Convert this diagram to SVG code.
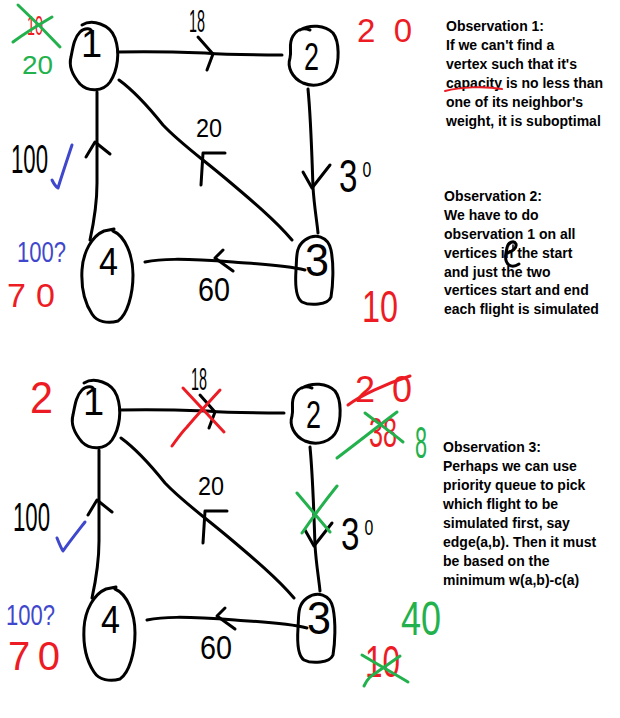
<svg xmlns="http://www.w3.org/2000/svg" width="620" height="718" viewBox="0 0 620 718">
<style>
.s{fill:none;stroke:#000;stroke-width:3;stroke-linecap:round;stroke-linejoin:round}
.r{stroke:#ed1c24}.g{stroke:#22b14c}.b{stroke:#3f48cc}
.h{font-family:"Liberation Sans",Arial,sans-serif;font-weight:normal}
.k{fill:#000}.tr{fill:#ed1c24}.tg{fill:#22b14c}.tb{fill:#3f48cc}
.obs{font-family:"Liberation Sans",Arial,sans-serif;font-weight:bold;font-size:14px;fill:#000}
</style>
<rect width="620" height="718" fill="#fff"/>

<!-- TOP GRAPH -->
<g id="top-graph">
  <g id="top-connectors">
    <path class="s" d="M118 52 C150 51 180 52 205 53 C230 55 260 55 282 55"/>
    <path class="s" d="M198 37 L213 54 L207 70"/>
    <path class="s" d="M308 89 C311 120 312 160 313 187 C314 205 317 222 318 233"/>
    <path class="s" d="M303 172 L312 188 L330 165"/>
    <path class="s" d="M119 80 C130 88 143 100 163 125 C180 143 200 157 225 178 C250 199 275 220 292 240"/>
    <path class="s" d="M225 153 L203 153 L201 185"/>
    <path class="s" d="M97 92 L97 183 C97 200 95 217 90 240"/>
    <path class="s" d="M86 157 L95 142 L110 154"/>
    <path class="s" d="M145 262 C160 259 180 258 233 262 C260 264 285 265 305 270"/>
    <path class="s" d="M223 250 L215 258 L233 271"/>
  </g>
  <g id="top-node-1">
    <path class="s" d="M82 25 C92 19 110 24 115 38 C120 52 118 70 110 82 C103 92 88 92 80 84 C74 77 68 68 71 57 C73 47 74 38 80 32 C85 27 92 28 92 33"/>
    <text class="h k" x="81" y="57" font-size="38">1</text>
  </g>
  <g id="top-node-2">
    <path class="s" d="M300 30 C310 24 325 25 333 33 C340 42 339 62 335 72 C330 84 315 88 303 83 C292 78 287 67 290 58 C292 50 288 44 293 36 C296 31 302 27 310 30"/>
    <text class="h k" x="304" y="70" font-size="38" textLength="15" lengthAdjust="spacingAndGlyphs">2</text>
  </g>
  <g id="top-node-3">
    <path class="s" d="M305 240 C315 233 328 236 331 250 C334 265 333 285 331 297 C328 305 310 306 302 302 C296 298 295 285 296 270 C297 258 295 247 305 240"/>
    <text class="h k" x="305" y="276" font-size="46" textLength="24" lengthAdjust="spacingAndGlyphs">3</text>
  </g>
  <g id="top-node-4">
    <path class="s" d="M113 231 C125 236 133 255 133 275 C133 295 127 315 118 321 C108 324 97 322 92 314 C84 302 81 288 82 270 C83 252 92 236 104 231 L114 229"/>
    <text class="h k" x="99" y="275" font-size="38" textLength="19" lengthAdjust="spacingAndGlyphs">4</text>
  </g>
  <g id="top-edge-labels">
    <text class="h k" x="189" y="32" font-size="32" textLength="16" lengthAdjust="spacingAndGlyphs">18</text>
    <text class="h k" x="196" y="137" font-size="26" textLength="26" lengthAdjust="spacingAndGlyphs">20</text>
    <text class="h k" transform="translate(339 192) scale(0.72 1)"><tspan font-size="46">3</tspan><tspan font-size="22" dx="7" dy="-15">0</tspan></text>
    <text class="h k" x="198" y="301" font-size="34" textLength="32" lengthAdjust="spacingAndGlyphs">60</text>
    <text class="h k" x="11" y="173" font-size="40" textLength="37" lengthAdjust="spacingAndGlyphs">100</text>
  </g>
</g>

<!-- TOP ANNOTATIONS -->
<g id="top-annotations">
  <text class="h tr" x="27" y="35" font-size="27" textLength="16" lengthAdjust="spacingAndGlyphs">10</text>
  <path class="s g" d="M13 42 C25 33 40 24 52 17"/>
  <path class="s g" d="M18 5 C32 18 46 32 60 47"/>
  <text class="h tg" x="22" y="74" font-size="26" textLength="31" lengthAdjust="spacingAndGlyphs">20</text>
  <text class="h tr" x="357" y="42" font-size="33" textLength="55" lengthAdjust="spacing">20</text>
  <path class="s b" d="M52 180 C54 184 56 187 58 188 C62 175 67 160 72 145"/>
  <text class="h tb" x="17" y="262" font-size="29" textLength="49" lengthAdjust="spacingAndGlyphs">100?</text>
  <text class="h tr" x="7" y="307" font-size="34" textLength="48" lengthAdjust="spacing">70</text>
  <text class="h tr" x="362" y="322" font-size="44" textLength="36" lengthAdjust="spacingAndGlyphs">10</text>
</g>

<!-- BOTTOM GRAPH -->
<g id="bottom-graph" transform="translate(2 358)">
  <g id="bottom-connectors">
    <path class="s" d="M118 52 C150 51 180 52 205 53 C230 55 260 55 282 55"/>
    <path class="s" d="M198 37 L213 54 L207 70"/>
    <path class="s" d="M308 89 C311 120 312 160 313 187 C314 205 317 222 318 233"/>
    <path class="s" d="M303 172 L312 188 L330 165"/>
    <path class="s" d="M119 80 C130 88 143 100 163 125 C180 143 200 157 225 178 C250 199 275 220 292 240"/>
    <path class="s" d="M225 153 L203 153 L201 185"/>
    <path class="s" d="M97 92 L97 183 C97 200 95 217 90 240"/>
    <path class="s" d="M86 157 L95 142 L110 154"/>
    <path class="s" d="M145 262 C160 259 180 258 233 262 C260 264 285 265 305 270"/>
    <path class="s" d="M223 250 L215 258 L233 271"/>
  </g>
  <g id="bottom-node-1">
    <path class="s" d="M82 25 C92 19 110 24 115 38 C120 52 118 70 110 82 C103 92 88 92 80 84 C74 77 68 68 71 57 C73 47 74 38 80 32 C85 27 92 28 92 33"/>
    <text class="h k" x="81" y="57" font-size="38">1</text>
  </g>
  <g id="bottom-node-2">
    <path class="s" d="M300 30 C310 24 325 25 333 33 C340 42 339 62 335 72 C330 84 315 88 303 83 C292 78 287 67 290 58 C292 50 288 44 293 36 C296 31 302 27 310 30"/>
    <text class="h k" x="304" y="70" font-size="38" textLength="15" lengthAdjust="spacingAndGlyphs">2</text>
  </g>
  <g id="bottom-node-3">
    <path class="s" d="M305 240 C315 233 328 236 331 250 C334 265 333 285 331 297 C328 305 310 306 302 302 C296 298 295 285 296 270 C297 258 295 247 305 240"/>
    <text class="h k" x="305" y="276" font-size="46" textLength="24" lengthAdjust="spacingAndGlyphs">3</text>
  </g>
  <g id="bottom-node-4">
    <path class="s" d="M113 231 C125 236 133 255 133 275 C133 295 127 315 118 321 C108 324 97 322 92 314 C84 302 81 288 82 270 C83 252 92 236 104 231 L114 229"/>
    <text class="h k" x="99" y="275" font-size="38" textLength="19" lengthAdjust="spacingAndGlyphs">4</text>
  </g>
  <g id="bottom-edge-labels">
    <text class="h k" x="189" y="32" font-size="32" textLength="16" lengthAdjust="spacingAndGlyphs">18</text>
    <text class="h k" x="196" y="137" font-size="26" textLength="26" lengthAdjust="spacingAndGlyphs">20</text>
    <text class="h k" transform="translate(339 192) scale(0.72 1)"><tspan font-size="46">3</tspan><tspan font-size="22" dx="7" dy="-15">0</tspan></text>
    <text class="h k" x="198" y="301" font-size="34" textLength="32" lengthAdjust="spacingAndGlyphs">60</text>
    <text class="h k" x="11" y="173" font-size="40" textLength="37" lengthAdjust="spacingAndGlyphs">100</text>
  </g>
</g>

<!-- BOTTOM ANNOTATIONS -->
<g id="bottom-annotations">
  <text class="h tr" x="30" y="413" font-size="44" textLength="23" lengthAdjust="spacingAndGlyphs">2</text>
  <path class="s r" d="M183 388 C197 403 211 418 224 432"/>
  <path class="s r" d="M172 446 C177 439 182 432 187 427 C198 414 209 402 220 390"/>
  <path class="s g" d="M297 493 C308 506 319 519 330 532"/>
  <path class="s g" d="M337 486 C325 501 313 517 302 533"/>
  <text class="h tr" x="355" y="402" font-size="36" textLength="57" lengthAdjust="spacing">20</text>
  <path class="s r" d="M348 405 C360 396 385 384 410 376"/>
  <text class="h tr" x="369" y="447" font-size="42" textLength="28" lengthAdjust="spacingAndGlyphs">38</text>
  <path class="s g" d="M337 458 C357 443 377 427 397 412"/>
  <path class="s g" d="M365 413 C378 423 391 432 403 442"/>
  <text class="h tg" x="415" y="458" font-size="44" textLength="12" lengthAdjust="spacingAndGlyphs">8</text>
  <path class="s b" d="M57 538 C59 543 61 548 63 551 C70 541 78 531 85 522"/>
  <text class="h tb" x="6" y="625" font-size="30" textLength="49" lengthAdjust="spacingAndGlyphs">100?</text>
  <text class="h tr" x="8" y="670" font-size="40" textLength="52" lengthAdjust="spacing">70</text>
  <text class="h tg" x="401" y="635" font-size="48" textLength="40" lengthAdjust="spacingAndGlyphs">40</text>
  <text class="h tr" x="365" y="677" font-size="44" textLength="35" lengthAdjust="spacingAndGlyphs">10</text>
  <path class="s g" d="M364 686 C366 682 368 679 370 677 C380 670 390 663 400 656"/>
  <path class="s g" d="M362 655 C377 664 393 673 408 682"/>
</g>

<!-- OBSERVATIONS -->
<g id="observation-1">
  <text class="obs" x="446" y="31">Observation 1:</text>
  <text class="obs" x="446" y="50">If we can't find a</text>
  <text class="obs" x="446" y="69">vertex such that it's</text>
  <text class="obs" x="446" y="88">capacity is no less than</text>
  <text class="obs" x="446" y="107">one of its neighbor's</text>
  <text class="obs" x="446" y="126">weight, it is suboptimal</text>
  <path class="s r" style="stroke-width:2" d="M445 91 C460 87 485 86 502 89"/>
</g>
<g id="observation-2">
  <text class="obs" x="444" y="201">Observation 2:</text>
  <text class="obs" x="444" y="220">We have to do</text>
  <text class="obs" x="444" y="239">observation 1 on all</text>
  <text class="obs" x="444" y="258">vertices in the start</text>
  <text class="obs" x="444" y="277">and just the two</text>
  <text class="obs" x="444" y="295">vertices start and end</text>
  <text class="obs" x="444" y="314">each flight is simulated</text>
  <path class="s" d="M507 253 C512 252 517 248 516 244 C514 240 508 242 507 248 C505 255 505 262 509 265 C512 267 516 266 519 264"/>
  <path class="s" style="stroke-width:1.5" d="M513 245 L513 250"/>
</g>
<g id="observation-3">
  <text class="obs" x="443" y="452">Observation 3:</text>
  <text class="obs" x="443" y="471">Perhaps we can use</text>
  <text class="obs" x="443" y="490">priority queue to pick</text>
  <text class="obs" x="443" y="509">which flight to be</text>
  <text class="obs" x="443" y="528">simulated first, say</text>
  <text class="obs" x="443" y="547">edge(a,b). Then it must</text>
  <text class="obs" x="443" y="566">be based on the</text>
  <text class="obs" x="443" y="585">minimum w(a,b)-c(a)</text>
</g>
</svg>
